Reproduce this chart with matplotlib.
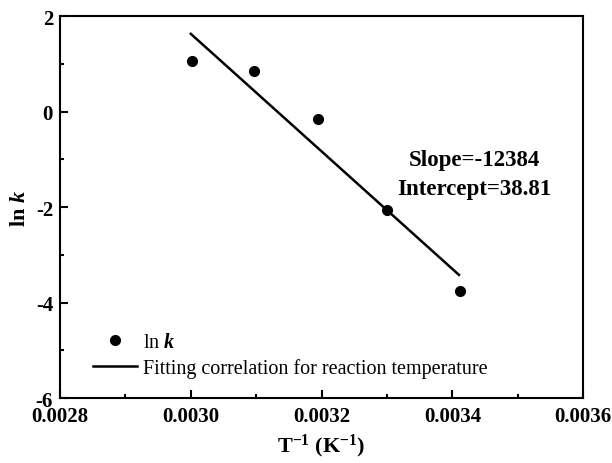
import matplotlib.pyplot as plt
from matplotlib.ticker import MultipleLocator

plt.rcParams['font.family'] = 'Liberation Serif'
plt.rcParams['axes.unicode_minus'] = False
plt.rcParams['mathtext.fontset'] = 'custom'
plt.rcParams['mathtext.rm'] = 'Liberation Serif'
plt.rcParams['mathtext.it'] = 'Liberation Serif:italic'
plt.rcParams['mathtext.bf'] = 'Liberation Serif:bold'
plt.rcParams['mathtext.bfit'] = 'Liberation Serif:italic:bold'

# measured points (1/T, ln k)
inv_T = [0.003002, 0.003096, 0.003194, 0.003300, 0.003411]
ln_k = [1.06, 0.85, -0.16, -2.07, -3.76]

# fitted line end points
fit_x = [0.003000, 0.003410]
fit_y = [1.63, -3.42]

slope_text = 'Slope=-12384'
intercept_text = 'Intercept=38.81'

fig = plt.figure(figsize=(6.12, 4.64), dpi=100)
ax = fig.add_axes([0.098, 0.14, 0.855, 0.823])

ax.plot(inv_T, ln_k, 'o', color='black', markersize=7, label=r'ln $\mathbfit{k}$')
ax.plot(fit_x, fit_y, '-', color='black', linewidth=1.8,
        label='Fitting correlation for reaction temperature')

ax.text(0.003433, -1.0, slope_text, ha='center', va='center', fontsize=16.5, fontweight='bold')
ax.text(0.003433, -1.6, intercept_text, ha='center', va='center', fontsize=16.5, fontweight='bold')

ax.set_xlim(0.0028, 0.0036)
ax.set_ylim(-6, 2)
ax.xaxis.set_major_locator(MultipleLocator(0.0002))
ax.xaxis.set_minor_locator(MultipleLocator(0.0001))
ax.yaxis.set_major_locator(MultipleLocator(2))
ax.yaxis.set_minor_locator(MultipleLocator(1))
ax.xaxis.set_major_formatter(plt.FormatStrFormatter('%.4f'))
ax.tick_params(which='both', direction='in', width=1.5, labelsize=15)
ax.tick_params(which='major', length=6)
ax.tick_params(which='minor', length=3)
ax.tick_params(axis='x', pad=6)
ax.tick_params(axis='y', pad=5)
for lbl in ax.get_xticklabels() + ax.get_yticklabels():
    lbl.set_fontweight('bold')
for sp in ax.spines.values():
    sp.set_linewidth(1.5)

ax.set_xlabel(r'T$^{\mathbf{-1}}$ (K$^{\mathbf{-1}}$)', fontsize=16, fontweight='bold', labelpad=4)
ax.set_ylabel(r'ln $\mathbfit{k}$', fontsize=16, fontweight='bold', labelpad=4)

ax.legend(loc='lower left', bbox_to_anchor=(0.048, 0.031), frameon=False, fontsize=14.5,
          handlelength=2.2, handletextpad=0.3, labelspacing=0.3, borderaxespad=0)

fig.savefig('out.png', dpi=100)
